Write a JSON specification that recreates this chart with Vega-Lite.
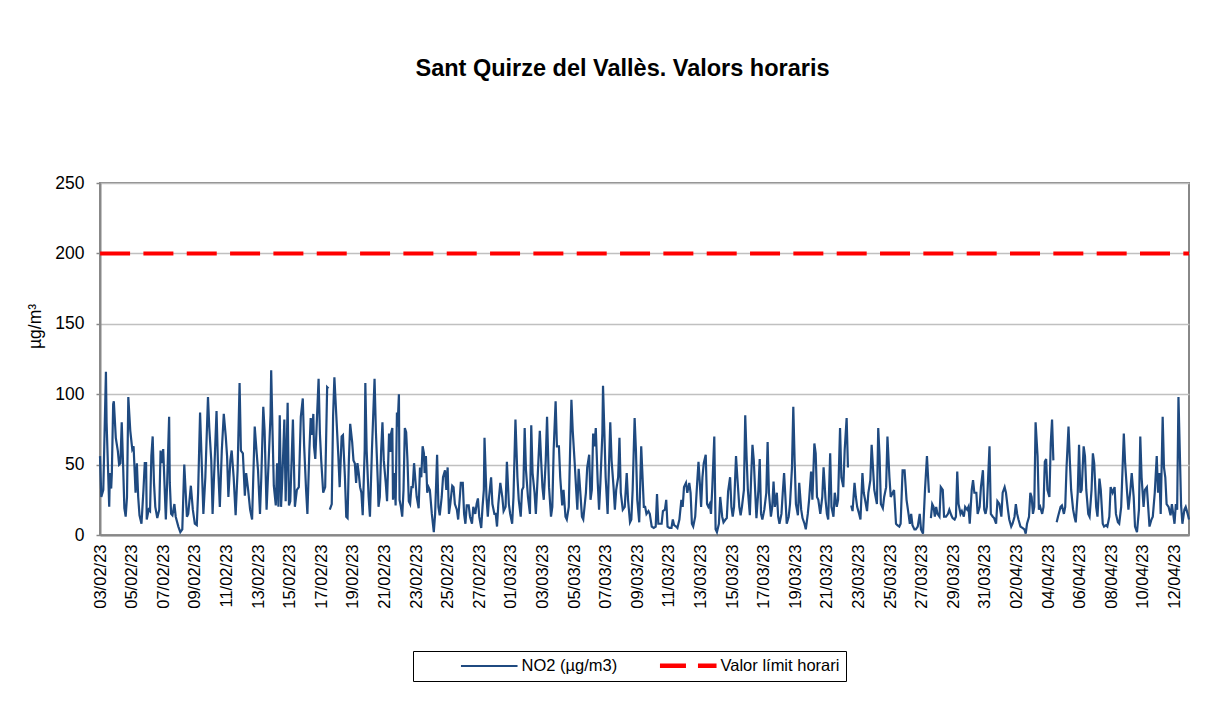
{
"$schema":"https://vega.github.io/schema/vega-lite/v6.json",
"width":1089,"height":352,
"padding":{"left":26,"top":56,"right":20,"bottom":10},
"background":"white",
"title":{"text":"Sant Quirze del Vallès. Valors horaris","font":"Liberation Sans","fontSize":23.5,"fontWeight":"bold","color":"black","offset":94,"anchor":"middle","dx":-22},
"config":{"view":{"stroke":"#888888","strokeWidth":2},"font":"Liberation Sans"},
"layer":[
{"data":{"values":[
{"t":"23020300","v":56},{"t":"23020302","v":27},{"t":"23020305","v":32},{"t":"23020309","v":116},{"t":"23020310","v":80},{"t":"23020314","v":20},{"t":"23020315","v":44},{"t":"23020317","v":33},{"t":"23020318","v":44},{"t":"23020320","v":93},{"t":"23020321","v":95},
{"t":"23020400","v":69},{"t":"23020403","v":60},{"t":"23020405","v":50},{"t":"23020407","v":51},{"t":"23020409","v":80},{"t":"23020411","v":51},{"t":"23020413","v":19},{"t":"23020415","v":13},{"t":"23020417","v":27},{"t":"23020419","v":98},{"t":"23020422","v":74},
{"t":"23020501","v":61},{"t":"23020503","v":63},{"t":"23020505","v":41},{"t":"23020506","v":30},{"t":"23020508","v":51},{"t":"23020510","v":27},{"t":"23020512","v":14},{"t":"23020515","v":8},{"t":"23020518","v":32},{"t":"23020520","v":51},{"t":"23020522","v":51},{"t":"23020523","v":11},
{"t":"23020602","v":18},{"t":"23020604","v":17},{"t":"23020606","v":56},{"t":"23020608","v":70},{"t":"23020610","v":37},{"t":"23020612","v":20},{"t":"23020615","v":12},{"t":"23020618","v":18},{"t":"23020620","v":60},{"t":"23020622","v":51},
{"t":"23020700","v":61},{"t":"23020704","v":11},{"t":"23020706","v":37},{"t":"23020709","v":84},{"t":"23020710","v":37},{"t":"23020712","v":15},{"t":"23020714","v":14},{"t":"23020717","v":22},{"t":"23020719","v":13},{"t":"23020723","v":6},
{"t":"23020802","v":2},{"t":"23020805","v":4},{"t":"23020808","v":50},{"t":"23020812","v":13},{"t":"23020814","v":15},{"t":"23020818","v":35},{"t":"23020821","v":18},
{"t":"23020900","v":8},{"t":"23020903","v":7},{"t":"23020905","v":30},{"t":"23020908","v":87},{"t":"23020911","v":44},{"t":"23020913","v":15},{"t":"23020916","v":41},{"t":"23020920","v":98},{"t":"23020922","v":76},
{"t":"23021001","v":53},{"t":"23021003","v":15},{"t":"23021006","v":51},{"t":"23021009","v":88},{"t":"23021011","v":53},{"t":"23021014","v":20},{"t":"23021017","v":60},{"t":"23021020","v":86},{"t":"23021023","v":70},
{"t":"23021101","v":56},{"t":"23021103","v":27},{"t":"23021106","v":53},{"t":"23021108","v":60},{"t":"23021111","v":41},{"t":"23021114","v":14},{"t":"23021117","v":46},{"t":"23021120","v":108},{"t":"23021122","v":60},
{"t":"23021201","v":58},{"t":"23021204","v":28},{"t":"23021206","v":44},{"t":"23021209","v":32},{"t":"23021212","v":18},{"t":"23021215","v":11},{"t":"23021219","v":77},{"t":"23021222","v":58},
{"t":"23021300","v":46},{"t":"23021303","v":15},{"t":"23021305","v":41},{"t":"23021308","v":91},{"t":"23021310","v":74},{"t":"23021313","v":18},{"t":"23021316","v":51},{"t":"23021319","v":85},{"t":"23021320","v":117},{"t":"23021322","v":74},
{"t":"23021400","v":35},{"t":"23021403","v":21},{"t":"23021405","v":51},{"t":"23021407","v":20},{"t":"23021409","v":85},{"t":"23021411","v":20},{"t":"23021413","v":41},{"t":"23021416","v":82},{"t":"23021418","v":24},{"t":"23021421","v":94},{"t":"23021423","v":21},
{"t":"23021501","v":24},{"t":"23021504","v":67},{"t":"23021505","v":82},{"t":"23021508","v":20},{"t":"23021511","v":32},{"t":"23021514","v":34},{"t":"23021517","v":84},{"t":"23021520","v":97},{"t":"23021522","v":64},
{"t":"23021601","v":32},{"t":"23021603","v":15},{"t":"23021606","v":60},{"t":"23021608","v":83},{"t":"23021610","v":71},{"t":"23021612","v":86},{"t":"23021613","v":63},{"t":"23021615","v":54},{"t":"23021617","v":77},{"t":"23021620","v":111},{"t":"23021622","v":72},
{"t":"23021700","v":53},{"t":"23021703","v":30},{"t":"23021706","v":34},{"t":"23021709","v":105},{"t":"23021711","v":104},{"t":"23021712","v":null},{"t":"23021713","v":18},{"t":"23021716","v":22},{"t":"23021718","v":84},{"t":"23021720","v":112},{"t":"23021723","v":84},
{"t":"23021802","v":56},{"t":"23021804","v":34},{"t":"23021807","v":70},{"t":"23021809","v":71},{"t":"23021812","v":41},{"t":"23021814","v":13},{"t":"23021816","v":12},{"t":"23021818","v":53},{"t":"23021820","v":79},{"t":"23021823","v":66},
{"t":"23021901","v":53},{"t":"23021903","v":51},{"t":"23021905","v":37},{"t":"23021907","v":51},{"t":"23021909","v":44},{"t":"23021911","v":34},{"t":"23021913","v":30},{"t":"23021915","v":14},{"t":"23021918","v":60},{"t":"23021919","v":108},{"t":"23021921","v":60},
{"t":"23022000","v":27},{"t":"23022002","v":13},{"t":"23022005","v":60},{"t":"23022009","v":111},{"t":"23022011","v":74},{"t":"23022014","v":37},{"t":"23022015","v":20},{"t":"23022017","v":27},{"t":"23022019","v":60},{"t":"23022021","v":80},{"t":"23022023","v":53},
{"t":"23022102","v":37},{"t":"23022104","v":24},{"t":"23022107","v":72},{"t":"23022109","v":59},{"t":"23022110","v":72},{"t":"23022112","v":76},{"t":"23022113","v":25},{"t":"23022115","v":44},{"t":"23022117","v":21},{"t":"23022119","v":87},{"t":"23022120","v":77},{"t":"23022122","v":100},{"t":"23022123","v":25},
{"t":"23022201","v":20},{"t":"23022203","v":13},{"t":"23022205","v":32},{"t":"23022207","v":76},{"t":"23022209","v":73},{"t":"23022211","v":53},{"t":"23022213","v":24},{"t":"23022215","v":22},{"t":"23022217","v":34},{"t":"23022219","v":34},{"t":"23022221","v":51},{"t":"23022223","v":39},
{"t":"23022301","v":27},{"t":"23022304","v":19},{"t":"23022306","v":48},{"t":"23022308","v":41},{"t":"23022310","v":63},{"t":"23022312","v":58},{"t":"23022313","v":44},{"t":"23022315","v":56},{"t":"23022317","v":30},{"t":"23022319","v":34},{"t":"23022321","v":32},
{"t":"23022400","v":15},{"t":"23022403","v":2},{"t":"23022405","v":15},{"t":"23022408","v":57},{"t":"23022410","v":20},{"t":"23022412","v":14},{"t":"23022415","v":27},{"t":"23022417","v":41},{"t":"23022420","v":46},{"t":"23022422","v":32},
{"t":"23022500","v":48},{"t":"23022502","v":15},{"t":"23022504","v":22},{"t":"23022507","v":35},{"t":"23022509","v":34},{"t":"23022511","v":22},{"t":"23022514","v":18},{"t":"23022516","v":11},{"t":"23022519","v":30},{"t":"23022520","v":37},{"t":"23022523","v":37},
{"t":"23022601","v":15},{"t":"23022603","v":8},{"t":"23022605","v":21},{"t":"23022608","v":21},{"t":"23022610","v":13},{"t":"23022613","v":8},{"t":"23022615","v":20},{"t":"23022618","v":15},{"t":"23022620","v":22},{"t":"23022622","v":26},
{"t":"23022700","v":13},{"t":"23022703","v":5},{"t":"23022705","v":20},{"t":"23022707","v":32},{"t":"23022708","v":69},{"t":"23022711","v":27},{"t":"23022713","v":13},{"t":"23022715","v":27},{"t":"23022718","v":41},{"t":"23022720","v":22},{"t":"23022723","v":15},
{"t":"23022801","v":15},{"t":"23022803","v":6},{"t":"23022805","v":22},{"t":"23022808","v":37},{"t":"23022811","v":27},{"t":"23022813","v":17},{"t":"23022816","v":20},{"t":"23022818","v":52},{"t":"23022821","v":22},{"t":"23022823","v":15},
{"t":"23030102","v":8},{"t":"23030104","v":27},{"t":"23030107","v":82},{"t":"23030110","v":41},{"t":"23030112","v":25},{"t":"23030115","v":13},{"t":"23030117","v":32},{"t":"23030119","v":34},{"t":"23030121","v":76},{"t":"23030123","v":46},
{"t":"23030202","v":27},{"t":"23030205","v":15},{"t":"23030207","v":78},{"t":"23030209","v":44},{"t":"23030212","v":30},{"t":"23030214","v":15},{"t":"23030217","v":44},{"t":"23030220","v":74},{"t":"23030222","v":53},
{"t":"23030300","v":34},{"t":"23030302","v":25},{"t":"23030305","v":53},{"t":"23030307","v":84},{"t":"23030310","v":34},{"t":"23030313","v":13},{"t":"23030315","v":20},{"t":"23030317","v":60},{"t":"23030320","v":95},{"t":"23030322","v":63},
{"t":"23030401","v":63},{"t":"23030403","v":41},{"t":"23030406","v":21},{"t":"23030408","v":32},{"t":"23030411","v":13},{"t":"23030413","v":11},{"t":"23030416","v":20},{"t":"23030418","v":60},{"t":"23030420","v":96},{"t":"23030422","v":74},
{"t":"23030501","v":51},{"t":"23030503","v":34},{"t":"23030505","v":18},{"t":"23030507","v":47},{"t":"23030509","v":34},{"t":"23030512","v":13},{"t":"23030514","v":11},{"t":"23030518","v":30},{"t":"23030520","v":48},{"t":"23030523","v":57},
{"t":"23030601","v":25},{"t":"23030603","v":32},{"t":"23030605","v":72},{"t":"23030607","v":63},{"t":"23030609","v":76},{"t":"23030612","v":37},{"t":"23030614","v":18},{"t":"23030616","v":37},{"t":"23030619","v":72},{"t":"23030620","v":106},{"t":"23030622","v":74},
{"t":"23030700","v":41},{"t":"23030703","v":15},{"t":"23030705","v":48},{"t":"23030707","v":80},{"t":"23030709","v":53},{"t":"23030712","v":34},{"t":"23030714","v":18},{"t":"23030716","v":32},{"t":"23030719","v":41},{"t":"23030721","v":69},{"t":"23030723","v":30},
{"t":"23030802","v":18},{"t":"23030805","v":20},{"t":"23030808","v":44},{"t":"23030810","v":25},{"t":"23030813","v":9},{"t":"23030815","v":11},{"t":"23030817","v":32},{"t":"23030820","v":83},{"t":"23030822","v":60},
{"t":"23030900","v":25},{"t":"23030903","v":9},{"t":"23030906","v":63},{"t":"23030910","v":20},{"t":"23030912","v":20},{"t":"23030914","v":15},{"t":"23030917","v":17},{"t":"23030919","v":15},{"t":"23030922","v":6},
{"t":"23031001","v":5},{"t":"23031004","v":6},{"t":"23031006","v":29},{"t":"23031008","v":8},{"t":"23031011","v":8},{"t":"23031013","v":8},{"t":"23031015","v":17},{"t":"23031018","v":18},{"t":"23031020","v":25},{"t":"23031022","v":6},
{"t":"23031101","v":5},{"t":"23031104","v":5},{"t":"23031106","v":11},{"t":"23031108","v":7},{"t":"23031111","v":6},{"t":"23031113","v":5},{"t":"23031116","v":11},{"t":"23031119","v":25},{"t":"23031121","v":20},{"t":"23031123","v":34},
{"t":"23031202","v":37},{"t":"23031204","v":30},{"t":"23031207","v":37},{"t":"23031209","v":30},{"t":"23031211","v":8},{"t":"23031213","v":6},{"t":"23031216","v":13},{"t":"23031219","v":37},{"t":"23031221","v":52},{"t":"23031223","v":37},
{"t":"23031301","v":20},{"t":"23031303","v":41},{"t":"23031305","v":51},{"t":"23031308","v":57},{"t":"23031310","v":22},{"t":"23031312","v":20},{"t":"23031314","v":22},{"t":"23031316","v":15},{"t":"23031318","v":34},{"t":"23031321","v":70},{"t":"23031323","v":4},
{"t":"23031401","v":2},{"t":"23031404","v":8},{"t":"23031406","v":27},{"t":"23031409","v":13},{"t":"23031411","v":9},{"t":"23031414","v":11},{"t":"23031416","v":12},{"t":"23031418","v":31},{"t":"23031421","v":41},{"t":"23031423","v":20},
{"t":"23031501","v":13},{"t":"23031503","v":20},{"t":"23031506","v":56},{"t":"23031508","v":41},{"t":"23031511","v":20},{"t":"23031513","v":14},{"t":"23031515","v":20},{"t":"23031518","v":32},{"t":"23031520","v":85},{"t":"23031522","v":56},
{"t":"23031600","v":32},{"t":"23031603","v":14},{"t":"23031605","v":41},{"t":"23031607","v":64},{"t":"23031609","v":53},{"t":"23031611","v":32},{"t":"23031613","v":12},{"t":"23031616","v":32},{"t":"23031618","v":54},{"t":"23031620","v":15},{"t":"23031622","v":11},
{"t":"23031701","v":18},{"t":"23031704","v":30},{"t":"23031706","v":66},{"t":"23031708","v":30},{"t":"23031711","v":13},{"t":"23031713","v":20},{"t":"23031715","v":38},{"t":"23031717","v":20},{"t":"23031720","v":30},{"t":"23031722","v":13},
{"t":"23031800","v":8},{"t":"23031803","v":15},{"t":"23031805","v":30},{"t":"23031807","v":44},{"t":"23031809","v":27},{"t":"23031811","v":8},{"t":"23031814","v":13},{"t":"23031816","v":22},{"t":"23031819","v":48},{"t":"23031821","v":91},{"t":"23031823","v":53},
{"t":"23031901","v":22},{"t":"23031904","v":14},{"t":"23031906","v":37},{"t":"23031909","v":18},{"t":"23031911","v":12},{"t":"23031914","v":8},{"t":"23031916","v":4},{"t":"23031919","v":15},{"t":"23031921","v":25},
{"t":"23032000","v":45},{"t":"23032002","v":25},{"t":"23032005","v":65},{"t":"23032007","v":58},{"t":"23032009","v":27},{"t":"23032011","v":25},{"t":"23032014","v":15},{"t":"23032017","v":27},{"t":"23032019","v":48},{"t":"23032022","v":25},
{"t":"23032100","v":15},{"t":"23032102","v":11},{"t":"23032105","v":58},{"t":"23032107","v":20},{"t":"23032110","v":13},{"t":"23032112","v":30},{"t":"23032115","v":20},{"t":"23032117","v":25},{"t":"23032120","v":76},{"t":"23032122","v":41},
{"t":"23032201","v":34},{"t":"23032203","v":60},{"t":"23032206","v":83},{"t":"23032208","v":48},{"t":"23032210","v":null},{"t":"23032213","v":21},{"t":"23032215","v":17},{"t":"23032218","v":37},{"t":"23032220","v":27},{"t":"23032222","v":20},
{"t":"23032301","v":15},{"t":"23032303","v":11},{"t":"23032306","v":44},{"t":"23032308","v":30},{"t":"23032310","v":25},{"t":"23032313","v":17},{"t":"23032315","v":30},{"t":"23032318","v":39},{"t":"23032320","v":64},{"t":"23032322","v":48},
{"t":"23032400","v":32},{"t":"23032404","v":22},{"t":"23032406","v":76},{"t":"23032408","v":56},{"t":"23032410","v":22},{"t":"23032413","v":19},{"t":"23032415","v":27},{"t":"23032418","v":34},{"t":"23032420","v":70},{"t":"23032423","v":41},
{"t":"23032501","v":27},{"t":"23032504","v":30},{"t":"23032506","v":32},{"t":"23032509","v":8},{"t":"23032511","v":7},{"t":"23032514","v":6},{"t":"23032516","v":8},{"t":"23032519","v":46},{"t":"23032522","v":46},
{"t":"23032601","v":25},{"t":"23032604","v":15},{"t":"23032606","v":8},{"t":"23032608","v":15},{"t":"23032610","v":7},{"t":"23032613","v":4},{"t":"23032615","v":4},{"t":"23032618","v":6},{"t":"23032621","v":15},{"t":"23032623","v":4},
{"t":"23032702","v":1},{"t":"23032705","v":32},{"t":"23032708","v":56},{"t":"23032711","v":30},{"t":"23032712","v":null},{"t":"23032714","v":12},{"t":"23032716","v":22},{"t":"23032718","v":20},{"t":"23032720","v":13},{"t":"23032722","v":20},
{"t":"23032800","v":15},{"t":"23032803","v":13},{"t":"23032805","v":34},{"t":"23032808","v":32},{"t":"23032810","v":13},{"t":"23032813","v":13},{"t":"23032816","v":15},{"t":"23032818","v":18},{"t":"23032821","v":14},{"t":"23032823","v":12},
{"t":"23032902","v":11},{"t":"23032904","v":13},{"t":"23032906","v":45},{"t":"23032908","v":22},{"t":"23032911","v":15},{"t":"23032913","v":17},{"t":"23032916","v":13},{"t":"23032918","v":20},{"t":"23032921","v":18},{"t":"23032923","v":20},
{"t":"23033001","v":8},{"t":"23033004","v":32},{"t":"23033006","v":39},{"t":"23033008","v":30},{"t":"23033011","v":30},{"t":"23033013","v":15},{"t":"23033016","v":20},{"t":"23033018","v":34},{"t":"23033021","v":46},{"t":"23033023","v":18},
{"t":"23033101","v":15},{"t":"23033103","v":20},{"t":"23033107","v":63},{"t":"23033109","v":15},{"t":"23033112","v":13},{"t":"23033114","v":12},{"t":"23033117","v":8},{"t":"23033119","v":24},{"t":"23033122","v":22},
{"t":"23040101","v":13},{"t":"23040103","v":30},{"t":"23040106","v":34},{"t":"23040108","v":30},{"t":"23040111","v":18},{"t":"23040113","v":11},{"t":"23040116","v":6},{"t":"23040118","v":8},{"t":"23040121","v":13},{"t":"23040123","v":22},
{"t":"23040201","v":15},{"t":"23040203","v":11},{"t":"23040206","v":6},{"t":"23040209","v":5},{"t":"23040212","v":4},{"t":"23040214","v":1},{"t":"23040216","v":8},{"t":"23040219","v":13},{"t":"23040221","v":30},{"t":"23040223","v":27},
{"t":"23040301","v":15},{"t":"23040303","v":20},{"t":"23040305","v":80},{"t":"23040308","v":56},{"t":"23040310","v":18},{"t":"23040312","v":20},{"t":"23040315","v":15},{"t":"23040317","v":20},{"t":"23040319","v":52},{"t":"23040321","v":54},{"t":"23040323","v":32},
{"t":"23040402","v":27},{"t":"23040404","v":65},{"t":"23040406","v":82},{"t":"23040408","v":53},{"t":"23040410","v":null},{"t":"23040413","v":9},{"t":"23040415","v":13},{"t":"23040419","v":20},{"t":"23040421","v":21},
{"t":"23040500","v":15},{"t":"23040502","v":20},{"t":"23040504","v":48},{"t":"23040507","v":77},{"t":"23040509","v":53},{"t":"23040511","v":32},{"t":"23040514","v":18},{"t":"23040516","v":13},{"t":"23040518","v":9},{"t":"23040521","v":30},{"t":"23040523","v":64},
{"t":"23040601","v":30},{"t":"23040603","v":32},{"t":"23040606","v":63},{"t":"23040608","v":56},{"t":"23040610","v":32},{"t":"23040613","v":15},{"t":"23040615","v":13},{"t":"23040618","v":32},{"t":"23040620","v":58},{"t":"23040622","v":51},
{"t":"23040701","v":20},{"t":"23040703","v":13},{"t":"23040706","v":40},{"t":"23040708","v":32},{"t":"23040711","v":8},{"t":"23040713","v":6},{"t":"23040716","v":7},{"t":"23040718","v":6},{"t":"23040721","v":13},{"t":"23040723","v":34},
{"t":"23040802","v":30},{"t":"23040805","v":34},{"t":"23040807","v":15},{"t":"23040810","v":9},{"t":"23040812","v":8},{"t":"23040815","v":20},{"t":"23040819","v":72},{"t":"23040821","v":51},
{"t":"23040900","v":30},{"t":"23040902","v":18},{"t":"23040905","v":32},{"t":"23040907","v":44},{"t":"23040910","v":27},{"t":"23040912","v":6},{"t":"23040915","v":2},{"t":"23040918","v":18},{"t":"23040920","v":70},{"t":"23040922","v":41},
{"t":"23041001","v":20},{"t":"23041003","v":32},{"t":"23041006","v":34},{"t":"23041008","v":20},{"t":"23041010","v":6},{"t":"23041013","v":11},{"t":"23041015","v":13},{"t":"23041018","v":30},{"t":"23041021","v":56},{"t":"23041023","v":30},
{"t":"23041101","v":44},{"t":"23041103","v":15},{"t":"23041106","v":84},{"t":"23041108","v":48},{"t":"23041110","v":41},{"t":"23041112","v":22},{"t":"23041115","v":20},{"t":"23041118","v":14},{"t":"23041120","v":22},{"t":"23041122","v":15},
{"t":"23041200","v":8},{"t":"23041202","v":22},{"t":"23041204","v":18},{"t":"23041206","v":98},{"t":"23041208","v":60},{"t":"23041210","v":21},{"t":"23041212","v":8},{"t":"23041215","v":18},{"t":"23041217","v":20},{"t":"23041220","v":15},{"t":"23041222","v":11}
],"format":{"parse":{"t":"date:'%y%m%d%H'"}}},
"mark":{"type":"line","strokeWidth":2.2,"invalid":"break-paths-filter-domains"},
"encoding":{
"x":{"field":"t","type":"temporal","scale":{"domain":[{"year":2023,"month":2,"date":3,"hours":0},{"year":2023,"month":4,"date":12,"hours":22}]},
"axis":{"title":null,"format":"%d/%m/%y","labelAngle":270,"labelFontSize":16.5,"labelFont":"Liberation Sans","labelColor":"black","labelPadding":9,"grid":false,"domainColor":"#888888","domainWidth":2,"tickColor":"#888888","tickSize":0,"labelOverlap":false,"labelFlush":false,
"values":[{"year":2023,"month":2,"date":3},{"year":2023,"month":2,"date":5},{"year":2023,"month":2,"date":7},{"year":2023,"month":2,"date":9},{"year":2023,"month":2,"date":11},{"year":2023,"month":2,"date":13},{"year":2023,"month":2,"date":15},{"year":2023,"month":2,"date":17},{"year":2023,"month":2,"date":19},{"year":2023,"month":2,"date":21},{"year":2023,"month":2,"date":23},{"year":2023,"month":2,"date":25},{"year":2023,"month":2,"date":27},{"year":2023,"month":3,"date":1},{"year":2023,"month":3,"date":3},{"year":2023,"month":3,"date":5},{"year":2023,"month":3,"date":7},{"year":2023,"month":3,"date":9},{"year":2023,"month":3,"date":11},{"year":2023,"month":3,"date":13},{"year":2023,"month":3,"date":15},{"year":2023,"month":3,"date":17},{"year":2023,"month":3,"date":19},{"year":2023,"month":3,"date":21},{"year":2023,"month":3,"date":23},{"year":2023,"month":3,"date":25},{"year":2023,"month":3,"date":27},{"year":2023,"month":3,"date":29},{"year":2023,"month":3,"date":31},{"year":2023,"month":4,"date":2},{"year":2023,"month":4,"date":4},{"year":2023,"month":4,"date":6},{"year":2023,"month":4,"date":8},{"year":2023,"month":4,"date":10},{"year":2023,"month":4,"date":12}]}},
"y":{"field":"v","type":"quantitative","scale":{"domain":[0,250],"nice":false},
"axis":{"title":"µg/m³","titleFont":"Liberation Sans","titleFontSize":17.5,"titleFontWeight":"normal","titleColor":"black","titlePadding":10,"titleY":143,"values":[0,50,100,150,200,250],"labelFontSize":17.5,"labelFont":"Liberation Sans","labelColor":"black","labelPadding":12,"gridColor":"#c0c0c0","gridWidth":1.5,"domainColor":"#888888","domainWidth":2,"tickColor":"#888888","tickSize":4,"tickWidth":1.5}},
"color":{"datum":"NO2 (µg/m3)","type":"nominal","scale":{"domain":["NO2 (µg/m3)","Valor límit horari"],"range":["#1f4a80","#ff0000"]},
"legend":{"title":null,"orient":"none","legendX":313,"legendY":468,"direction":"horizontal","strokeColor":"black","fillColor":"white","padding":6,"columnPadding":0,"labelFont":"Liberation Sans","labelFontSize":16.5,"labelColor":"black","symbolType":"stroke","symbolSize":3200,"symbolStrokeWidth":3,"symbolOffset":62,"labelOffset":24,
"encode":{"symbols":{"update":{"strokeDash":{"signal":"datum.value === 'Valor límit horari' ? [26,12] : [1,0]"},"strokeWidth":{"signal":"datum.value === 'Valor límit horari' ? 4.5 : 2"}}}}}}
}},
{"data":{"values":[{"limit":200}]},
"mark":{"type":"rule","strokeWidth":4,"strokeDash":[30,13.33],"strokeDashOffset":24.33},
"encoding":{"y":{"field":"limit","type":"quantitative"},
"color":{"datum":"Valor límit horari","type":"nominal"}}}
]
}
